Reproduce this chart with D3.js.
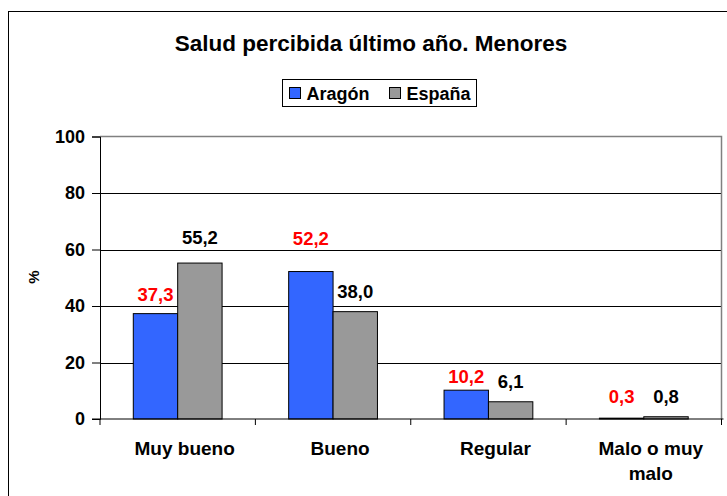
<!DOCTYPE html>
<html>
<head>
<meta charset="utf-8">
<script src="https://cdn.jsdelivr.net/npm/d3@7"></script>
<style>
  body { margin: 0; background: #fff; }
  svg { display: block; font-family: Arial, "Liberation Sans", sans-serif; }
</style>
</head>
<body>
<figure style="margin:0"></figure>
<script>
const categories = ["Muy bueno", "Bueno", "Regular", "Malo o muy malo"];
const series = ["Aragón", "España"];
const aragon = [37.3, 52.2, 10.2, 0.3];
const espana = [55.2, 38.0, 6.1, 0.8];
const yTicks = [0, 20, 40, 60, 80, 100];

const colors = { "Aragón": "#3366FF", "España": "#999999" };
const labelColors = { "Aragón": "#FF0000", "España": "#000000" };
// gap between bar top and label baseline, as nudged in the original
const labelGap = { "Aragón": [13, 27, 7, 15], "España": [19, 14, 14, 14] };
const comma = (v) => d3.format(".1f")(v).replace(".", ",");

const width = 727;
const height = 496;
const margin = { top: 136.5, right: 5.5, bottom: 77, left: 100 };

const svg = d3.select("figure").append("svg").attr("width", width).attr("height", height);

// outer chart border (runs off the canvas right and bottom)
svg.append("rect")
  .attr("x", 8.5).attr("y", 11.5)
  .attr("width", 740).attr("height", 500)
  .attr("fill", "none").attr("stroke", "#000").attr("stroke-width", 1);

svg.append("text")
  .attr("x", 371).attr("y", 51)
  .attr("text-anchor", "middle")
  .attr("font-size", 22.5).attr("font-weight", "bold")
  .text("Salud percibida último año. Menores");

// legend
const legend = svg.append("g").attr("transform", "translate(282.5,79.5)");
legend.append("rect").attr("width", 194).attr("height", 27)
  .attr("fill", "#fff").attr("stroke", "#000");
const legendX = [7, 107];
series.forEach((s, i) => {
  legend.append("rect").attr("x", legendX[i]).attr("y", 8).attr("width", 11).attr("height", 11)
    .attr("fill", colors[s]).attr("stroke", "#000");
  legend.append("text").attr("x", legendX[i] + 17).attr("y", 20)
    .attr("font-size", 18).attr("font-weight", "bold").text(s);
});

const x0 = d3.scaleBand().domain(categories)
  .range([margin.left, width - margin.right]);
const x1 = d3.scaleBand().domain(series)
  .range([0, x0.bandwidth()]).paddingOuter(0.75).paddingInner(0);
const y = d3.scaleLinear().domain([0, 100]).range([height - margin.bottom, margin.top]);

// gridlines
svg.append("g").selectAll("line").data(yTicks.slice(1, -1)).join("line")
  .attr("x1", margin.left).attr("x2", width - margin.right)
  .attr("y1", (d) => Math.round(y(d)) + 0.5).attr("y2", (d) => Math.round(y(d)) + 0.5)
  .attr("stroke", "#000");

// plot border top and right
svg.append("path")
  .attr("d", `M${margin.left},${margin.top}H${width - margin.right}V${height - margin.bottom}`)
  .attr("fill", "none").attr("stroke", "#808080").attr("stroke-width", 1.5);

const rows = categories.map((c, i) => ({ c, vals: [
  { s: "Aragón", v: aragon[i], i },
  { s: "España", v: espana[i], i },
] }));

const groups = svg.append("g").selectAll("g").data(rows).join("g")
  .attr("transform", (d) => `translate(${x0(d.c)},0)`);

groups.selectAll("rect").data((d) => d.vals).join("rect")
  .attr("x", (d) => x1(d.s))
  .attr("y", (d) => y(d.v))
  .attr("width", x1.bandwidth())
  .attr("height", (d) => y(0) - y(d.v))
  .attr("fill", (d) => colors[d.s])
  .attr("stroke", "#000").attr("stroke-width", 1);

groups.selectAll("text").data((d) => d.vals).join("text")
  .attr("x", (d) => x1(d.s) + x1.bandwidth() / 2)
  .attr("y", (d) => y(d.v) - labelGap[d.s][d.i])
  .attr("text-anchor", "middle")
  .attr("font-size", 18.5).attr("font-weight", "bold")
  .attr("fill", (d) => labelColors[d.s])
  .text((d) => comma(d.v));

// y axis
const yAxis = svg.append("g").attr("transform", `translate(${margin.left},0)`)
  .call(d3.axisLeft(y).tickValues(yTicks).tickSize(8).tickPadding(7).tickFormat(d3.format("d")));
yAxis.select(".domain").attr("stroke", "#000");
yAxis.selectAll("text").attr("font-size", 18).attr("font-weight", "bold")
  .attr("font-family", "Arial, 'Liberation Sans', sans-serif").attr("fill", "#000");

// x axis
const xAxis = svg.append("g").attr("transform", `translate(0,${height - margin.bottom})`);
xAxis.append("line").attr("x1", margin.left - 8).attr("x2", width - margin.right + 2)
  .attr("stroke", "#000");
const xTicks = categories.map((c) => x0(c)).concat([width - margin.right]);
xAxis.selectAll("line.tick").data(xTicks).join("line").attr("class", "tick")
  .attr("x1", (d) => d).attr("x2", (d) => d).attr("y1", 0).attr("y2", 6)
  .attr("stroke", "#000");

// category labels sit a little right of the band centre in the original
const labelShift = 7;
const wrapLines = { "Malo o muy malo": ["Malo o muy", "malo"] };
xAxis.selectAll("text").data(categories).join("text")
  .attr("y", 36)
  .attr("text-anchor", "middle")
  .attr("font-size", 19).attr("font-weight", "bold")
  .each(function (d) {
    const lines = wrapLines[d] || [d];
    d3.select(this).selectAll("tspan").data(lines).join("tspan")
      .attr("x", x0(d) + x0.bandwidth() / 2 + labelShift)
      .attr("dy", (_, i) => (i ? 25 : 0))
      .text((l) => l);
  });

svg.append("text")
  .attr("transform", "translate(39,277) rotate(-90)")
  .attr("text-anchor", "middle")
  .attr("font-size", 15).attr("font-weight", "bold")
  .text("%");
</script>
</body>
</html>
